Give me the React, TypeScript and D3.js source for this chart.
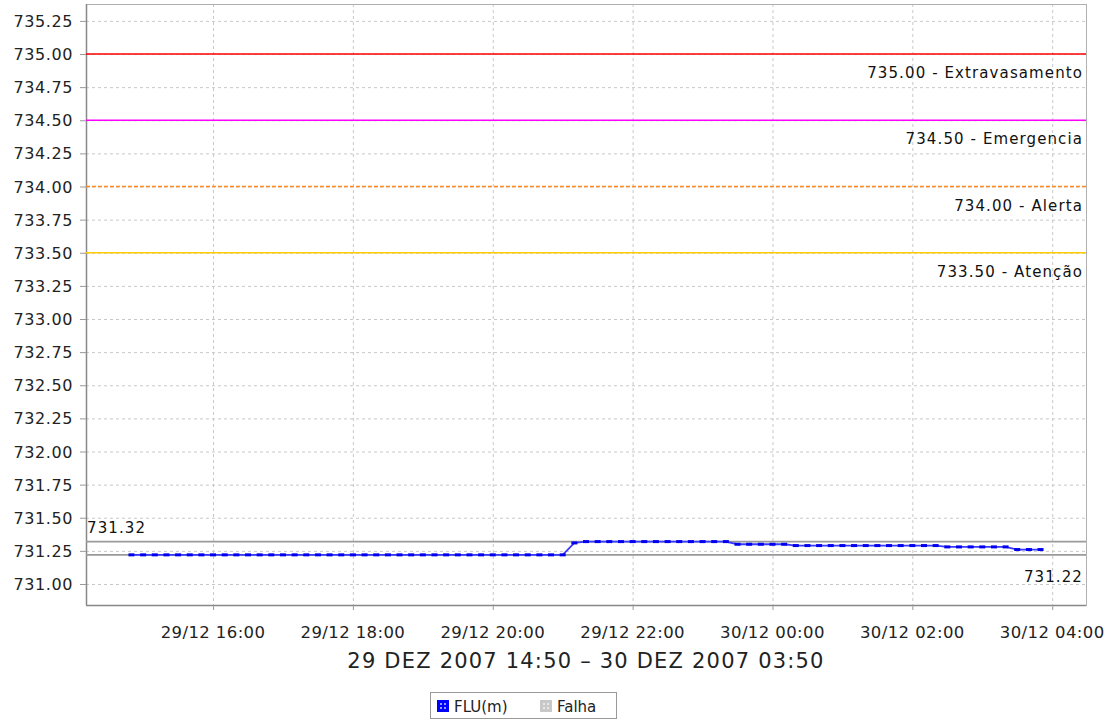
import React, { useEffect, useRef } from "react";
import * as d3 from "d3";

// ---- data ----
const startTime = new Date(2007, 11, 29, 14, 50);
const stepMinutes = 10;
// FLU(m) readings every 10 minutes from 29/12 14:50 to 30/12 03:50
const fluValues: number[] = [
  // 14:50 .. 20:50 (37 points)
  731.22, 731.22, 731.22, 731.22, 731.22, 731.22, 731.22, 731.22, 731.22, 731.22,
  731.22, 731.22, 731.22, 731.22, 731.22, 731.22, 731.22, 731.22, 731.22, 731.22,
  731.22, 731.22, 731.22, 731.22, 731.22, 731.22, 731.22, 731.22, 731.22, 731.22,
  731.22, 731.22, 731.22, 731.22, 731.22, 731.22, 731.22,
  // 21:00, 21:10
  731.22, 731.31,
  // 21:20 .. 23:20
  731.32, 731.32, 731.32, 731.32, 731.32, 731.32, 731.32, 731.32, 731.32, 731.32,
  731.32, 731.32, 731.32,
  // 23:30 .. 00:10
  731.30, 731.30, 731.30, 731.30, 731.30,
  // 00:20 .. 02:20
  731.29, 731.29, 731.29, 731.29, 731.29, 731.29, 731.29, 731.29, 731.29, 731.29,
  731.29, 731.29, 731.29,
  // 02:30 .. 03:20
  731.28, 731.28, 731.28, 731.28, 731.28, 731.28,
  // 03:30 .. 03:50
  731.26, 731.26, 731.26,
];

const yTicks: number[] = [731.0, 731.25, 731.5, 731.75, 732.0, 732.25, 732.5, 732.75, 733.0, 733.25, 733.5, 733.75, 734.0, 734.25, 734.5, 734.75, 735.0, 735.25];

const thresholdValues: number[] = [735.0, 734.5, 734.0, 733.5];
const thresholdNames: string[] = ["Extravasamento", "Emergencia", "Alerta", "Atenção"];
const thresholdColors: string[] = ["#ff0000", "#ff00ff", "#ff8c1a", "#ffcc00"];
const thresholdDashed: boolean[] = [false, false, true, false];

const maxValue = 731.32;
const minValue = 731.22;

const xDomainStart = new Date(2007, 11, 29, 14, 11);
const xDomainEnd = new Date(2007, 11, 30, 4, 29);

const rangeLabel = "29 DEZ 2007 14:50 – 30 DEZ 2007 03:50";
const legendNames: string[] = ["FLU(m)", "Falha"];
const legendColors: string[] = ["#0000ff", "#c8c8c8"];

const W = 1106;
const H = 723;
const plot = { left: 86, right: 1086, top: 4, bottom: 605 };
const FONT = "'DejaVu Sans', Verdana, sans-serif";

export default function App() {
  const ref = useRef<SVGSVGElement | null>(null);

  useEffect(() => {
    document.body.style.margin = "0";
    const svg = d3.select(ref.current);
    svg.selectAll("*").remove();

    const points = fluValues.map((v, i) => ({
      t: new Date(startTime.getTime() + i * stepMinutes * 60000),
      v,
    }));

    const x = d3.scaleTime().domain([xDomainStart, xDomainEnd]).range([plot.left, plot.right]);
    const y = d3.scaleLinear().domain([730.8415, 735.3774]).range([plot.bottom, plot.top]);

    svg.append("rect").attr("width", W).attr("height", H).attr("fill", "#ffffff");

    const xTicks = x.ticks(d3.timeHour.every(2) as any);
    const fmt = d3.timeFormat("%d/%m %H:%M");

    // grid
    const g = svg.append("g");
    yTicks.forEach((t) => {
      g.append("line")
        .attr("x1", plot.left).attr("x2", plot.right)
        .attr("y1", y(t) + 0.5).attr("y2", y(t) + 0.5)
        .attr("stroke", "#c8c8c8").attr("stroke-width", 1)
        .attr("stroke-dasharray", "3,3");
    });
    xTicks.forEach((t) => {
      g.append("line")
        .attr("x1", x(t) + 0.5).attr("x2", x(t) + 0.5)
        .attr("y1", plot.top).attr("y2", plot.bottom)
        .attr("stroke", "#c8c8c8").attr("stroke-width", 1)
        .attr("stroke-dasharray", "3,3");
    });

    // plot border
    svg.append("rect")
      .attr("x", plot.left + 0.5).attr("y", plot.top + 0.5)
      .attr("width", plot.right - plot.left).attr("height", plot.bottom - plot.top)
      .attr("fill", "none").attr("stroke", "#b0b0b0").attr("stroke-width", 1);
    svg.append("line")
      .attr("x1", plot.left + 0.5).attr("x2", plot.left + 0.5)
      .attr("y1", plot.top).attr("y2", plot.bottom)
      .attr("stroke", "#888").attr("stroke-width", 1.5);
    svg.append("line")
      .attr("x1", plot.left).attr("x2", plot.right)
      .attr("y1", plot.bottom + 0.5).attr("y2", plot.bottom + 0.5)
      .attr("stroke", "#888").attr("stroke-width", 1.5);

    // thresholds
    thresholdValues.forEach((v, i) => {
      const yy = y(v);
      svg.append("line")
        .attr("x1", plot.left).attr("x2", plot.right)
        .attr("y1", yy).attr("y2", yy)
        .attr("stroke", thresholdColors[i]).attr("stroke-width", 1.4)
        .attr("stroke-dasharray", thresholdDashed[i] ? "4,2" : null);
      svg.append("text")
        .attr("x", plot.right - 3).attr("y", yy + 24)
        .attr("text-anchor", "end")
        .attr("font-family", FONT).attr("font-size", 15)
        .attr("letter-spacing", "1.1px")
        .attr("fill", "#111")
        .text(`${v.toFixed(2)} - ${thresholdNames[i]}`);
    });

    // max/min reference lines
    [maxValue, minValue].forEach((v) => {
      svg.append("line")
        .attr("x1", plot.left).attr("x2", plot.right)
        .attr("y1", y(v)).attr("y2", y(v))
        .attr("stroke", "#9a9a9a").attr("stroke-width", 1.6);
    });
    svg.append("text")
      .attr("x", plot.left + 1).attr("y", y(maxValue) - 9)
      .attr("font-family", FONT).attr("font-size", 15).attr("letter-spacing", "1.1px")
      .attr("fill", "#111").text(maxValue.toFixed(2));
    svg.append("text")
      .attr("x", plot.right - 3).attr("y", y(minValue) + 27)
      .attr("text-anchor", "end")
      .attr("font-family", FONT).attr("font-size", 15).attr("letter-spacing", "1.1px")
      .attr("fill", "#111").text(minValue.toFixed(2));

    // series line
    const line = d3.line<{ t: Date; v: number }>().x((d) => x(d.t)).y((d) => y(d.v));
    svg.append("path")
      .datum(points)
      .attr("d", line as any)
      .attr("fill", "none").attr("stroke", "#3a3aff").attr("stroke-width", 1.8);
    svg.append("g").selectAll("rect").data(points).join("rect")
      .attr("x", (d) => x(d.t) - 3).attr("y", (d) => y(d.v) - 1.5)
      .attr("width", 6).attr("height", 3)
      .attr("fill", "#0000ee");

    // y axis
    yTicks.forEach((t) => {
      svg.append("line")
        .attr("x1", plot.left - 6).attr("x2", plot.left)
        .attr("y1", y(t) + 0.5).attr("y2", y(t) + 0.5)
        .attr("stroke", "#999");
      svg.append("text")
        .attr("x", plot.left - 13).attr("y", y(t) + 6)
        .attr("text-anchor", "end")
        .attr("font-family", FONT).attr("font-size", 16).attr("letter-spacing", "0.6px")
        .attr("fill", "#222")
        .text(t.toFixed(2));
    });

    // x axis
    xTicks.forEach((t) => {
      svg.append("line")
        .attr("x1", x(t) + 0.5).attr("x2", x(t) + 0.5)
        .attr("y1", plot.bottom).attr("y2", plot.bottom + 5)
        .attr("stroke", "#999");
      svg.append("text")
        .attr("x", x(t)).attr("y", plot.bottom + 33)
        .attr("text-anchor", "middle")
        .attr("font-family", FONT).attr("font-size", 16.5).attr("letter-spacing", "0.4px")
        .attr("fill", "#222")
        .text(fmt(t));
    });

    svg.append("text")
      .attr("x", (plot.left + plot.right) / 2).attr("y", 668)
      .attr("text-anchor", "middle")
      .attr("font-family", FONT).attr("font-size", 21).attr("letter-spacing", "1.2px")
      .attr("fill", "#222")
      .text(rangeLabel);

    // legend
    const lg = svg.append("g");
    lg.append("rect")
      .attr("x", 430.5).attr("y", 692.5).attr("width", 186).attr("height", 26)
      .attr("fill", "#fff").attr("stroke", "#999").attr("stroke-width", 1);
    const lx = [437, 540];
    legendNames.forEach((name, i) => {
      lg.append("rect")
        .attr("x", lx[i]).attr("y", 700).attr("width", 12).attr("height", 12)
        .attr("fill", legendColors[i]);
      [[3, 3], [7, 3], [3, 7], [7, 7]].forEach(([dx, dy]) => {
        lg.append("rect")
          .attr("x", lx[i] + dx).attr("y", 700 + dy).attr("width", 2).attr("height", 2)
          .attr("fill", "#ffffff").attr("opacity", 0.6);
      });
      lg.append("text")
        .attr("x", lx[i] + 17).attr("y", 712)
        .attr("font-family", FONT).attr("font-size", 15)
        .attr("fill", "#222")
        .text(name);
    });
  }, []);

  return <svg ref={ref} width={W} height={H} style={{ display: "block" }} />;
}
